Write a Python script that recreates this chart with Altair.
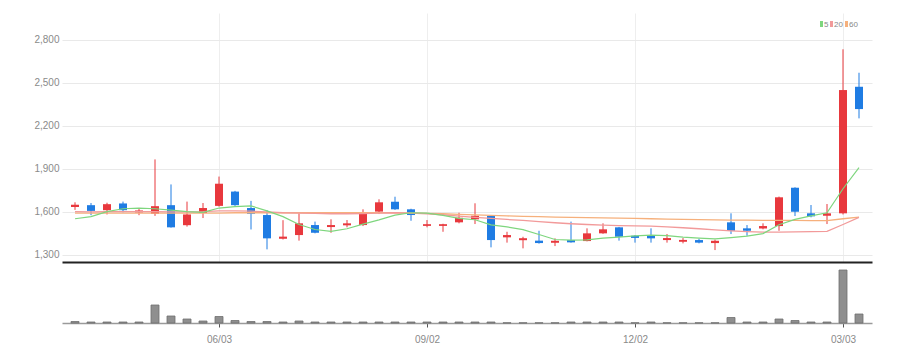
import altair as alt
import pandas as pd

# ---- data (weekly candles) ----
dates = [
    "2024-04-01", "2024-04-08", "2024-04-15", "2024-04-22", "2024-04-29",
    "2024-05-06", "2024-05-13", "2024-05-20", "2024-05-27", "2024-06-03",
    "2024-06-10", "2024-06-17", "2024-06-24", "2024-07-01", "2024-07-08",
    "2024-07-15", "2024-07-22", "2024-07-29", "2024-08-05", "2024-08-12",
    "2024-08-19", "2024-08-26", "2024-09-02", "2024-09-09", "2024-09-16",
    "2024-09-23", "2024-09-30", "2024-10-07", "2024-10-14", "2024-10-21",
    "2024-10-28", "2024-11-04", "2024-11-11", "2024-11-18", "2024-11-25",
    "2024-12-02", "2024-12-09", "2024-12-16", "2024-12-23", "2024-12-30",
    "2025-01-06", "2025-01-13", "2025-01-20", "2025-01-27", "2025-02-03",
    "2025-02-10", "2025-02-17", "2025-02-24", "2025-03-03", "2025-03-10",
]
open_ = [1632, 1645, 1610, 1657, 1594, 1585, 1645, 1505, 1590, 1640,
         1740, 1625, 1576, 1410, 1436, 1506, 1492, 1504, 1506, 1600,
         1669, 1616, 1500, 1500, 1525, 1546, 1571, 1420, 1400, 1397,
         1382, 1401, 1394, 1448, 1490, 1431, 1431, 1401, 1389, 1401,
         1380, 1525, 1483, 1482, 1499, 1767, 1588, 1571, 1588, 2473]
high = [1665, 1660, 1662, 1670, 1620, 1965, 1790, 1670, 1660, 1845,
        1745, 1675, 1610, 1540, 1588, 1530, 1546, 1541, 1616, 1686,
        1704, 1620, 1541, 1515, 1592, 1658, 1575, 1459, 1424, 1466,
        1413, 1530, 1483, 1518, 1493, 1436, 1483, 1443, 1415, 1410,
        1404, 1588, 1506, 1518, 1705, 1770, 1646, 1653, 2735, 2571]
low = [1612, 1575, 1580, 1595, 1575, 1570, 1488, 1495, 1555, 1635,
       1640, 1475, 1336, 1405, 1397, 1448, 1452, 1490, 1499, 1583,
       1612, 1536, 1490, 1459, 1518, 1513, 1350, 1383, 1343, 1376,
       1359, 1383, 1392, 1445, 1397, 1383, 1383, 1383, 1378, 1378,
       1331, 1443, 1431, 1476, 1466, 1569, 1560, 1513, 1580, 2252]
close = [1648, 1605, 1652, 1610, 1608, 1638, 1490, 1580, 1625, 1795,
         1645, 1585, 1413, 1425, 1518, 1452, 1506, 1518, 1595, 1665,
         1616, 1576, 1512, 1512, 1557, 1571, 1401, 1436, 1414, 1380,
         1396, 1385, 1448, 1476, 1424, 1416, 1413, 1415, 1402, 1383,
         1396, 1466, 1466, 1499, 1700, 1599, 1567, 1588, 2450, 2317]
ma5 = [1550, 1565, 1600, 1620, 1625, 1620, 1610, 1600, 1595, 1625,
       1635, 1640, 1605, 1565, 1510, 1475, 1462, 1480, 1512, 1542,
       1575, 1592, 1590, 1573, 1553, 1543, 1507, 1493, 1474, 1440,
       1405, 1400, 1403, 1414, 1422, 1430, 1436, 1432, 1422, 1415,
       1410, 1418, 1428, 1446, 1508, 1546, 1570, 1592, 1760, 1908]
ma20 = [1600, 1598, 1600, 1600, 1600, 1600, 1598, 1598, 1600, 1605,
        1605, 1603, 1598, 1592, 1590, 1588, 1585, 1585, 1586, 1590,
        1592, 1590, 1585, 1578, 1568, 1560, 1552, 1545, 1538, 1530,
        1522, 1515, 1510, 1505, 1502, 1500, 1498, 1493, 1487, 1480,
        1472, 1465, 1460, 1457, 1457, 1458, 1460, 1462, 1510, 1560]
ma60 = [1590, 1590, 1590, 1590, 1590, 1590, 1590, 1590, 1590, 1590,
        1592, 1592, 1592, 1592, 1592, 1592, 1592, 1592, 1592, 1592,
        1592, 1590, 1588, 1585, 1580, 1577, 1573, 1570, 1567, 1565,
        1562, 1560, 1558, 1556, 1554, 1552, 1550, 1548, 1546, 1544,
        1542, 1540, 1540, 1538, 1538, 1538, 1537, 1537, 1550, 1562]
volume = [30000, 20000, 20000, 20000, 20000, 360000, 140000, 80000, 40000, 130000,
          50000, 30000, 30000, 20000, 40000, 20000, 20000, 20000, 20000, 20000,
          20000, 20000, 20000, 20000, 20000, 20000, 20000, 4000, 4000, 4000,
          4000, 20000, 20000, 20000, 20000, 4000, 20000, 4000, 4000, 4000,
          4000, 110000, 20000, 20000, 80000, 50000, 20000, 20000, 1060000, 180000]

price_ticks = [1300, 1600, 1900, 2200, 2500, 2800]
tick_idx = [9, 22, 35, 48]
legend_labels = ["5", "20", "60"]

RED = "#E8383D"
BLUE = "#1F7CE3"
MA_COLORS = ["#7ED67E", "#F29A9A", "#F6B07C"]
FONT = "Liberation Sans"

df = pd.DataFrame({
    "i": list(range(len(dates))), "date": dates,
    "open": open_, "high": high, "low": low, "close": close,
    "ma5": ma5, "ma20": ma20, "ma60": ma60, "volume": volume,
})
leg = pd.DataFrame({"label": legend_labels})

tick_text = [dates[k][5:7] + "/" + dates[k][8:10] for k in tick_idx]
label_expr = " : ".join(
    f"datum.value == {k} ? '{t}'" for k, t in zip(tick_idx, tick_text)
) + " : ''"

xscale = alt.Scale(domain=[-0.5, len(dates) - 0.5], nice=False, zero=False)
x_price = alt.X("i:Q", scale=xscale, axis=alt.Axis(
    values=tick_idx, labels=False, ticks=False, grid=True, gridColor="#eeeeee",
    domainColor="#222222", domainWidth=2, title=None))
yscale = alt.Scale(domain=[1247.6, 2988.8], nice=False, zero=False)
y_price = alt.Y("low:Q", scale=yscale, axis=alt.Axis(
    values=price_ticks, format=",.0f", grid=True, gridColor="#e9e9e9", domain=False,
    ticks=False, labelColor="#8a8a8a", labelFont=FONT, labelFontSize=10,
    labelPadding=3, minExtent=49, maxExtent=49, title=None))

cond_color = alt.condition("datum.close >= datum.open", alt.value(RED), alt.value(BLUE))

base = alt.Chart(df).encode(x=x_price)
wicks = base.mark_rule(strokeWidth=1).encode(y=y_price, y2="high:Q", color=cond_color)
bodies = base.mark_bar(size=8).encode(y=alt.Y("open:Q", scale=yscale), y2="close:Q",
                                      color=cond_color)
l60 = base.mark_line(strokeWidth=1.3, color=MA_COLORS[2]).encode(y=alt.Y("ma60:Q", scale=yscale))
l20 = base.mark_line(strokeWidth=1.3, color=MA_COLORS[1]).encode(y=alt.Y("ma20:Q", scale=yscale))
l5 = base.mark_line(strokeWidth=1.2, color=MA_COLORS[0]).encode(y=alt.Y("ma5:Q", scale=yscale))

leg_layers = []
leg_sq = [759.5, 769.5, 784.5]
for lab, col, lx in zip(legend_labels, MA_COLORS, leg_sq):
    lc = alt.Chart(leg).transform_filter(alt.datum.label == lab)
    leg_layers.append(lc.mark_rect(color=col).encode(
        x=alt.value(lx - 1.5), x2=alt.value(lx + 1.5), y=alt.value(8), y2=alt.value(14)))
    leg_layers.append(lc.mark_text(align="left", baseline="middle", font=FONT,
                                   fontSize=8, color="#888888").encode(
        x=alt.value(lx + 2.5), y=alt.value(11.5), text="label:N"))

price = alt.layer(wicks, bodies, l60, l20, l5, *leg_layers).properties(width=810, height=249)

x_vol = alt.X("i:Q", scale=xscale, axis=alt.Axis(
    values=tick_idx, labelExpr=label_expr, ticks=True, tickSize=4, tickColor="#555555",
    domainColor="#9a9a9a", domainWidth=1.5, labelColor="#8a8a8a", labelFont=FONT,
    labelFontSize=10, labelPadding=7, grid=False, title=None))
vol = alt.Chart(df).mark_bar(size=8, color="#8f8f8f", stroke="#707070", strokeWidth=0.8).encode(
    x=x_vol,
    y=alt.Y("volume:Q", scale=alt.Scale(domain=[0, 1220000], nice=False), axis=alt.Axis(
        labels=False, ticks=False, domain=False, grid=False, minExtent=49, maxExtent=49,
        title=None)),
).properties(width=810, height=61)

chart = alt.vconcat(price, vol, spacing=0).configure_view(stroke=None)
chart.save("out.html", embed_options={"renderer": "svg", "actions": False})
